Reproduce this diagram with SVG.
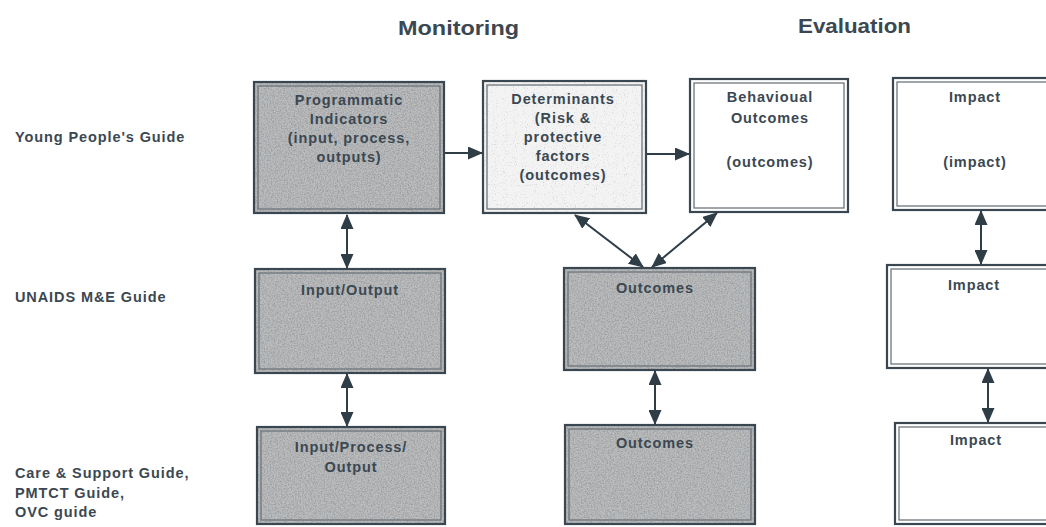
<svg xmlns="http://www.w3.org/2000/svg" width="1046" height="527" viewBox="0 0 1046 527">
<style>
text{font-family:"Liberation Sans",Arial,sans-serif;font-weight:bold;fill:#3b4852}
.hdr{font-size:21px}
.lbl{font-size:14.5px;letter-spacing:0.9px}
.bx{font-size:14.5px;letter-spacing:0.9px;text-anchor:middle}
.outer{fill:none;stroke:#3a4650;stroke-width:2.2}
.inner{fill:none;stroke:#6d767c;stroke-width:1.3}
.dark{fill:#bdbdbd}
.light{fill:#f3f3f3}
.white{fill:#ffffff}
.grain{filter:url(#noise)}
.lgrain{filter:url(#lnoise)}
.con{stroke:#2f3d47;stroke-width:2;fill:none}
</style>
<defs>
<filter id="noise" x="0" y="0" width="100%" height="100%">
<feTurbulence type="fractalNoise" baseFrequency="0.7" numOctaves="3" seed="4" result="t"/>
<feColorMatrix in="t" type="matrix" values="0 0 0 0 0.33  0 0 0 0 0.35  0 0 0 0 0.37  2.4 0 0 0 -0.85" result="n"/>
<feComposite in="n" in2="SourceGraphic" operator="in"/>
</filter>
<filter id="lnoise" x="0" y="0" width="100%" height="100%">
<feTurbulence type="fractalNoise" baseFrequency="0.9" numOctaves="2" seed="9" result="t"/>
<feColorMatrix in="t" type="matrix" values="0 0 0 0 0.55  0 0 0 0 0.55  0 0 0 0 0.55  3 0 0 0 -1.8" result="n"/>
<feComposite in="n" in2="SourceGraphic" operator="in"/>
</filter>
<marker id="ah" viewBox="0 0 15 13" refX="14" refY="6.5" markerWidth="15" markerHeight="13" markerUnits="userSpaceOnUse" orient="auto-start-reverse">
<path d="M0,0 L15,6.5 L0,13 z" fill="#2f3d47"/>
</marker>
</defs>
<rect width="1046" height="527" fill="#ffffff"/>

<g id="headers">
<text class="hdr" x="398" y="35" textLength="121" lengthAdjust="spacingAndGlyphs">Monitoring</text>
<text class="hdr" x="798" y="33" textLength="113" lengthAdjust="spacingAndGlyphs">Evaluation</text>
</g>

<g id="row-labels">
<text class="lbl" x="15" y="142">Young People's Guide</text>
<text class="lbl" x="15" y="302">UNAIDS M&amp;E Guide</text>
<text class="lbl" x="15" y="478">Care &amp; Support Guide,</text>
<text class="lbl" x="15" y="498">PMTCT Guide,</text>
<text class="lbl" x="15" y="517">OVC guide</text>
</g>

<g id="node-programmatic">
<rect class="dark" x="254" y="82" width="190" height="131"/>
<rect class="grain" x="254" y="82" width="190" height="131" fill="#000"/>
<rect class="outer" x="254" y="82" width="190" height="131"/>
<rect class="inner" x="258" y="86" width="182" height="123"/>
<text class="bx" x="349" y="105">Programmatic</text>
<text class="bx" x="349" y="124">Indicators</text>
<text class="bx" x="349" y="143">(input, process,</text>
<text class="bx" x="349" y="162">outputs)</text>
</g>

<g id="node-determinants">
<rect class="light" x="483" y="81" width="163" height="132"/>
<rect class="lgrain" x="483" y="81" width="163" height="132" fill="#000"/>
<rect class="outer" x="483" y="81" width="163" height="132"/>
<rect class="inner" x="487" y="85" width="155" height="124"/>
<text class="bx" x="563" y="104">Determinants</text>
<text class="bx" x="563" y="123">(Risk &amp;</text>
<text class="bx" x="563" y="142">protective</text>
<text class="bx" x="563" y="161">factors</text>
<text class="bx" x="563" y="180">(outcomes)</text>
</g>

<g id="node-behavioural">
<rect class="white" x="690" y="79" width="158" height="133"/>
<rect class="outer" x="690" y="79" width="158" height="133"/>
<rect class="inner" x="694" y="83" width="150" height="125"/>
<text class="bx" x="770" y="102">Behavioual</text>
<text class="bx" x="770" y="123">Outcomes</text>
<text class="bx" x="770" y="167">(outcomes)</text>
</g>

<g id="node-impact-1">
<rect class="white" x="893" y="78" width="170" height="132"/>
<rect class="outer" x="893" y="78" width="170" height="132"/>
<rect class="inner" x="897" y="82" width="162" height="124"/>
<text class="bx" x="975" y="102">Impact</text>
<text class="bx" x="975" y="167">(impact)</text>
</g>

<g id="node-input-output">
<rect class="dark" x="255" y="269" width="190" height="104"/>
<rect class="grain" x="255" y="269" width="190" height="104" fill="#000"/>
<rect class="outer" x="255" y="269" width="190" height="104"/>
<rect class="inner" x="259" y="273" width="182" height="96"/>
<text class="bx" x="350" y="295">Input/Output</text>
</g>

<g id="node-outcomes-2">
<rect class="dark" x="564" y="268" width="191" height="102"/>
<rect class="grain" x="564" y="268" width="191" height="102" fill="#000"/>
<rect class="outer" x="564" y="268" width="191" height="102"/>
<rect class="inner" x="568" y="272" width="183" height="94"/>
<text class="bx" x="655" y="293">Outcomes</text>
</g>

<g id="node-impact-2">
<rect class="white" x="887" y="265" width="176" height="103"/>
<rect class="outer" x="887" y="265" width="176" height="103"/>
<rect class="inner" x="891" y="269" width="168" height="95"/>
<text class="bx" x="974" y="290">Impact</text>
</g>

<g id="node-input-process-output">
<rect class="dark" x="257" y="427" width="188" height="97"/>
<rect class="grain" x="257" y="427" width="188" height="97" fill="#000"/>
<rect class="outer" x="257" y="427" width="188" height="97"/>
<rect class="inner" x="261" y="431" width="180" height="89"/>
<text class="bx" x="351" y="452">Input/Process/</text>
<text class="bx" x="351" y="472">Output</text>
</g>

<g id="node-outcomes-3">
<rect class="dark" x="565" y="425" width="190" height="99"/>
<rect class="grain" x="565" y="425" width="190" height="99" fill="#000"/>
<rect class="outer" x="565" y="425" width="190" height="99"/>
<rect class="inner" x="569" y="429" width="182" height="91"/>
<text class="bx" x="655" y="448">Outcomes</text>
</g>

<g id="node-impact-3">
<rect class="white" x="895" y="423" width="168" height="101"/>
<rect class="outer" x="895" y="423" width="168" height="101"/>
<rect class="inner" x="899" y="427" width="160" height="93"/>
<text class="bx" x="976" y="445">Impact</text>
</g>

<g id="connectors">
<line class="con" x1="445" y1="153" x2="482" y2="153" marker-end="url(#ah)"/>
<line class="con" x1="647" y1="154" x2="689" y2="154" marker-end="url(#ah)"/>
<line class="con" x1="347" y1="215" x2="347" y2="268" marker-start="url(#ah)" marker-end="url(#ah)"/>
<line class="con" x1="347" y1="374" x2="347" y2="426" marker-start="url(#ah)" marker-end="url(#ah)"/>
<line class="con" x1="575" y1="215" x2="643" y2="267" marker-start="url(#ah)" marker-end="url(#ah)"/>
<line class="con" x1="717" y1="213" x2="652" y2="267" marker-start="url(#ah)" marker-end="url(#ah)"/>
<line class="con" x1="655" y1="371" x2="655" y2="424" marker-start="url(#ah)" marker-end="url(#ah)"/>
<line class="con" x1="981" y1="211" x2="981" y2="264" marker-start="url(#ah)" marker-end="url(#ah)"/>
<line class="con" x1="988" y1="369" x2="988" y2="422" marker-start="url(#ah)" marker-end="url(#ah)"/>
</g>
</svg>
